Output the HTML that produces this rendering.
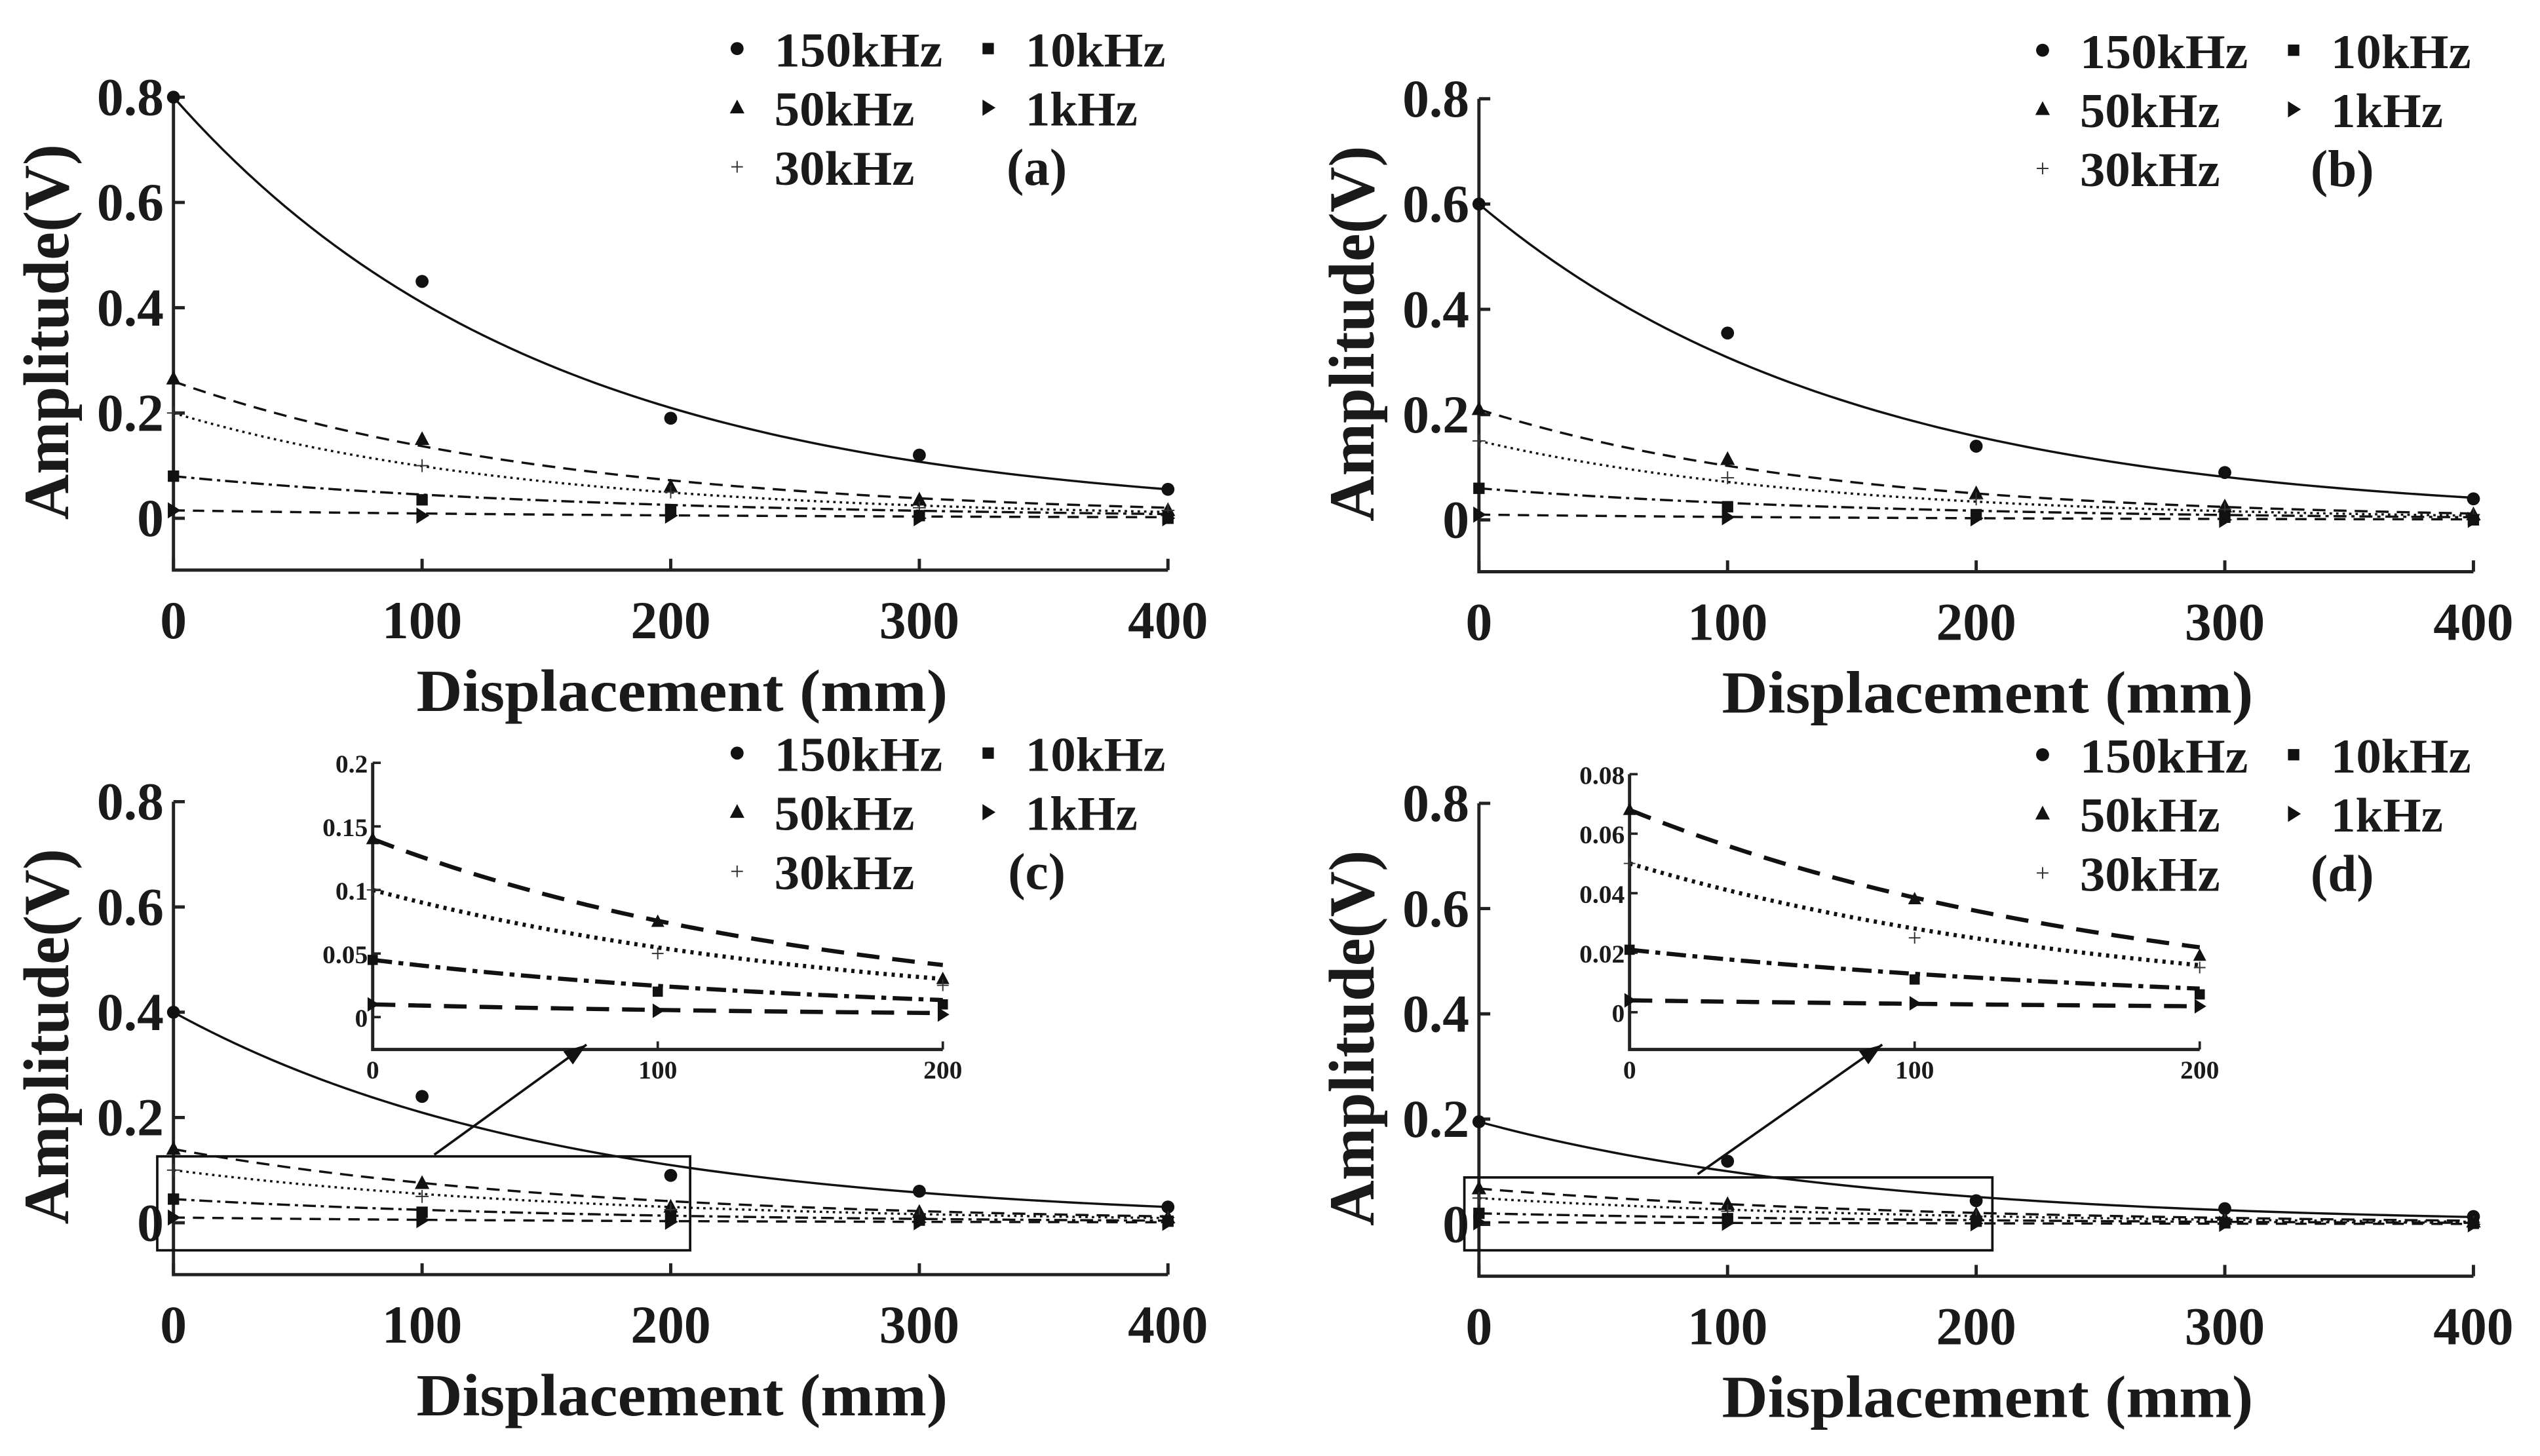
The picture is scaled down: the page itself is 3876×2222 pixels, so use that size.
<!DOCTYPE html>
<html><head><meta charset="utf-8"><style>
html,body{margin:0;padding:0;background:#fff;}
svg{display:block;}
text{font-family:"Liberation Serif",serif;font-weight:bold;fill:#1a1a1a;}
</style></head><body>
<svg id="fig" xmlns="http://www.w3.org/2000/svg" width="3876" height="2222" viewBox="0 0 1568 899"></svg>
<script>
const xs=[0,100,200,300,400];
const seriesNames=["150kHz","50kHz","30kHz","10kHz","1kHz"];
const yTicksMain=[0,0.2,0.4,0.6,0.8];
const yTickLabelsMain=["0","0.2","0.4","0.6","0.8"];
const xTickLabels=["0","100","200","300","400"];
// panel a
const a150=[0.8,0.45,0.19,0.12,0.055];
const a50=[0.265,0.15,0.06,0.035,0.015];
const a30=[0.2,0.1,0.05,0.02,0.015];
const a10=[0.08,0.035,0.015,0.005,0.0];
const a1=[0.015,0.005,0.005,0.0,0.0];
const aFitStart=[0.8,0.26,0.2,0.08,0.015];
const aFitEnd=[0.055,0.02,0.012,0.008,0.002];
// panel b
const b150=[0.6,0.355,0.14,0.09,0.04];
const b50=[0.21,0.115,0.05,0.025,0.01];
const b30=[0.15,0.08,0.04,0.02,0.01];
const b10=[0.06,0.025,0.01,0.005,0.0];
const b1=[0.01,0.005,0.003,0.0,0.0];
const bFitStart=[0.6,0.21,0.15,0.06,0.01];
const bFitEnd=[0.042,0.012,0.008,0.005,0.001];
// panel c
const c150=[0.4,0.24,0.09,0.06,0.03];
const c50=[0.14,0.075,0.03,0.02,0.01];
const c30=[0.1,0.05,0.025,0.015,0.01];
const c10=[0.045,0.02,0.01,0.005,0.003];
const c1=[0.01,0.005,0.002,0.001,0.0];
const cFitStart=[0.4,0.14,0.1,0.045,0.01];
const cFitEnd=[0.03,0.012,0.009,0.004,0.001];
// panel d
const d150=[0.195,0.12,0.045,0.03,0.015];
const d50=[0.068,0.038,0.019,0.01,0.005];
const d30=[0.05,0.025,0.015,0.008,0.004];
const d10=[0.021,0.011,0.006,0.003,0.002];
const d1=[0.004,0.003,0.002,0.001,0.0];
const dFitStart=[0.195,0.068,0.05,0.021,0.004];
const dFitEnd=[0.014,0.007,0.005,0.003,0.001];
const insetCTicks=[0,0.05,0.1,0.15,0.2];
const insetCTickLabels=["0","0.05","0.1","0.15","0.2"];
const insetDTicks=[0,0.02,0.04,0.06,0.08];
const insetDTickLabels=["0","0.02","0.04","0.06","0.08"];
const insetXTicks=[0,100,200];

const NS="http://www.w3.org/2000/svg";
const svg=document.getElementById('fig');
function el(tag,attrs,parent){const e=document.createElementNS(NS,tag);for(const k in attrs)e.setAttribute(k,attrs[k]);(parent||svg).appendChild(e);return e;}
const dashes=["none","8,5","1.5,2.5","8,3,2,3","7,5"];

function marker(g,kind,x,y,s){
  let m;
  if(kind===0)m=el('circle',{cx:x,cy:y,r:4*s,fill:'#111'},g);
  else if(kind===1)m=el('polygon',{points:`${x},${y-5*s} ${x-4.5*s},${y+3.5*s} ${x+4.5*s},${y+3.5*s}`,fill:'#111'},g);
  else if(kind===2)m=el('path',{d:`M${x-4*s},${y}H${x+4*s}M${x},${y-4*s}V${y+4*s}`,stroke:'#333','stroke-width':0.8},g);
  else if(kind===3)m=el('rect',{x:x-3.5*s,y:y-3.5*s,width:7*s,height:7*s,fill:'#111'},g);
  else m=el('polygon',{points:`${x-3.5*s},${y-5*s} ${x+4.5*s},${y} ${x-3.5*s},${y+5*s}`,fill:'#111'},g);
  return m;
}
function fitPath(sx,sy,y0,y1,xmax){
  const k=Math.log(y0/Math.max(y1,1e-4))/400;let d="";
  for(let i=0;i<=80;i++){const xv=xmax*i/80;d+=(i?"L":"M")+sx(xv).toFixed(2)+","+sy(y0*Math.exp(-k*xv)).toFixed(2);}
  return d;
}
function panel(id,ox,oy,series,fs,fe,label){
  const g=el('g',{},svg);
  
  
  const x0=107+ox,x1=721+ox,yTop=60+oy,yZero=320+oy,yBot=352+oy;
  const sx=v=>x0+(x1-x0)*v/400, sy=v=>yZero-(yZero-yTop)*v/0.8;
  const ax=el('path',{d:`M${x0},${yTop}V${yBot}H${x1}`,fill:'none',stroke:'#222','stroke-width':2},g);
  
  
  yTicksMain.forEach((t,i)=>{
    el('line',{x1:x0,x2:x0+7,y1:sy(t),y2:sy(t),stroke:'#222','stroke-width':2},g);
    const tl=el('text',{x:x0-6,y:sy(t)+11,'text-anchor':'end','font-size':33},g);
    tl.textContent=yTickLabelsMain[i];
    
    
  });
  xs.forEach((t,i)=>{
    el('line',{x1:sx(t),x2:sx(t),y1:yBot,y2:yBot-7,stroke:'#222','stroke-width':2},g);
    const tl=el('text',{x:sx(t),y:yBot+42,'text-anchor':'middle','font-size':33},g);
    tl.textContent=xTickLabels[i];
    
    
  });
  const xl=el('text',{x:(x0+x1)/2+7,y:yBot+87,'text-anchor':'middle','font-size':37,textLength:328,lengthAdjust:'spacingAndGlyphs'},g);
  xl.textContent="Displacement (mm)";
  
  
  const yl=el('text',{x:0,y:0,'text-anchor':'middle','font-size':40,textLength:232,lengthAdjust:'spacingAndGlyphs',transform:`translate(${ox+42},${oy+205}) rotate(-90)`},g);
  yl.textContent="Amplitude(V)";
  
  
  series.forEach((arr,si)=>{
    const p=el('path',{d:fitPath(sx,sy,fs[si],fe[si],400),fill:'none',stroke:'#111','stroke-width':1.4,'stroke-dasharray':dashes[si]},g);
    
    
    arr.forEach((v,i)=>{const m=marker(g,si,sx(xs[i]),sy(v),1);
      
      });
  });
  // legend
  const lg=el('g',{},g);
  
  
  const cols=[[0,1,2],[3,4]];
  cols.forEach((c,ci)=>c.forEach((si,ri)=>{
    const mx=ox+(ci?610:455), ty=oy+30+ri*36.5;
    marker(lg,si,mx,ty,si===2?0.9:1);
    const t=el('text',{x:mx+23,y:ty+11,'font-size':30,textLength:seriesNames[si].length*17.3,lengthAdjust:'spacingAndGlyphs'},lg);
    t.textContent=seriesNames[si];
    
    
  }));
  const pl=el('text',{x:ox+640,y:oy+114,'text-anchor':'middle','font-size':32},g);
  pl.textContent=label;
  
  
  return {g,sx,sy};
}
function inset(P,ox,oy,series,fs,fe,ticks,tickLabels,ymax,yTopPx,rect,arrow,name){
  const g=el('g',{},svg);
  
  
  const x0=230+ox,x1=582+ox,yZero=oy+(ymax===0.2?628:625),yTop=oy+yTopPx,yBot=oy+648;
  const sx=v=>x0+(x1-x0)*v/200, sy=v=>yZero-(yZero-yTop)*v/ymax;
  el('path',{d:`M${x0},${yTop}V${yBot}H${x1}`,fill:'none',stroke:'#222','stroke-width':2},g);
  ticks.forEach((t,i)=>{
    el('line',{x1:x0,x2:x0+5,y1:sy(t),y2:sy(t),stroke:'#222','stroke-width':1.5},g);
    const tl=el('text',{x:x0-3,y:sy(t)+6,'text-anchor':'end','font-size':16},g);
    tl.textContent=tickLabels[i];
    
    
  });
  insetXTicks.forEach(t=>{
    el('line',{x1:sx(t),x2:sx(t),y1:yBot,y2:yBot-5,stroke:'#222','stroke-width':1.5},g);
    const tl=el('text',{x:sx(t),y:yBot+18,'text-anchor':'middle','font-size':16},g);
    tl.textContent=String(t);
    
    
  });
  series.forEach((arr,si)=>{
    if(si===0)return;
    const p=el('path',{d:fitPath(sx,sy,fs[si],fe[si],200),fill:'none',stroke:'#111','stroke-width':2.6,'stroke-dasharray':si===2?'2,3':(si===3?'12,4,3,4':'14,8')},g);
    
    
    arr.slice(0,3).forEach((v,i)=>{const m=marker(g,si,sx(xs[i]),sy(v),0.9);
      
      });
  });
  const r=el('rect',{x:rect[0],y:rect[1],width:rect[2]-rect[0],height:rect[3]-rect[1],fill:'none',stroke:'#111','stroke-width':1.5},svg);
  
  
  const a=el('line',{x1:arrow[0],y1:arrow[1],x2:arrow[2],y2:arrow[3],stroke:'#111','stroke-width':1.5},svg);
  
  
  const ang=Math.atan2(arrow[3]-arrow[1],arrow[2]-arrow[0]);
  const hx=arrow[2],hy=arrow[3],L=14,W=5;
  const bx=hx-L*Math.cos(ang),by=hy-L*Math.sin(ang);
  el('polygon',{points:`${hx},${hy} ${bx+W*Math.sin(ang)},${by-W*Math.cos(ang)} ${bx-W*Math.sin(ang)},${by+W*Math.cos(ang)}`,fill:'#111'},svg);
}
panel('a',0,0,[a150,a50,a30,a10,a1],aFitStart,aFitEnd,'(a)');
panel('b',806,1,[b150,b50,b30,b10,b1],bFitStart,bFitEnd,'(b)');
panel('c',0,435,[c150,c50,c30,c10,c1],cFitStart,cFitEnd,'(c)');
panel('d',806,436,[d150,d50,d30,d10,d1],dFitStart,dFitEnd,'(d)');
inset(null,0,0,[c150,c50,c30,c10,c1],cFitStart,cFitEnd,insetCTicks,insetCTickLabels,0.2,471,[97,714,426,772],[268,713,362,645],'inset-c');
inset(null,776,0,[d150,d50,d30,d10,d1],dFitStart,dFitEnd,insetDTicks,insetDTickLabels,0.08,478,[904,727,1230,772],[1048,725,1162,645],'inset-d');
</script>
</body></html>
